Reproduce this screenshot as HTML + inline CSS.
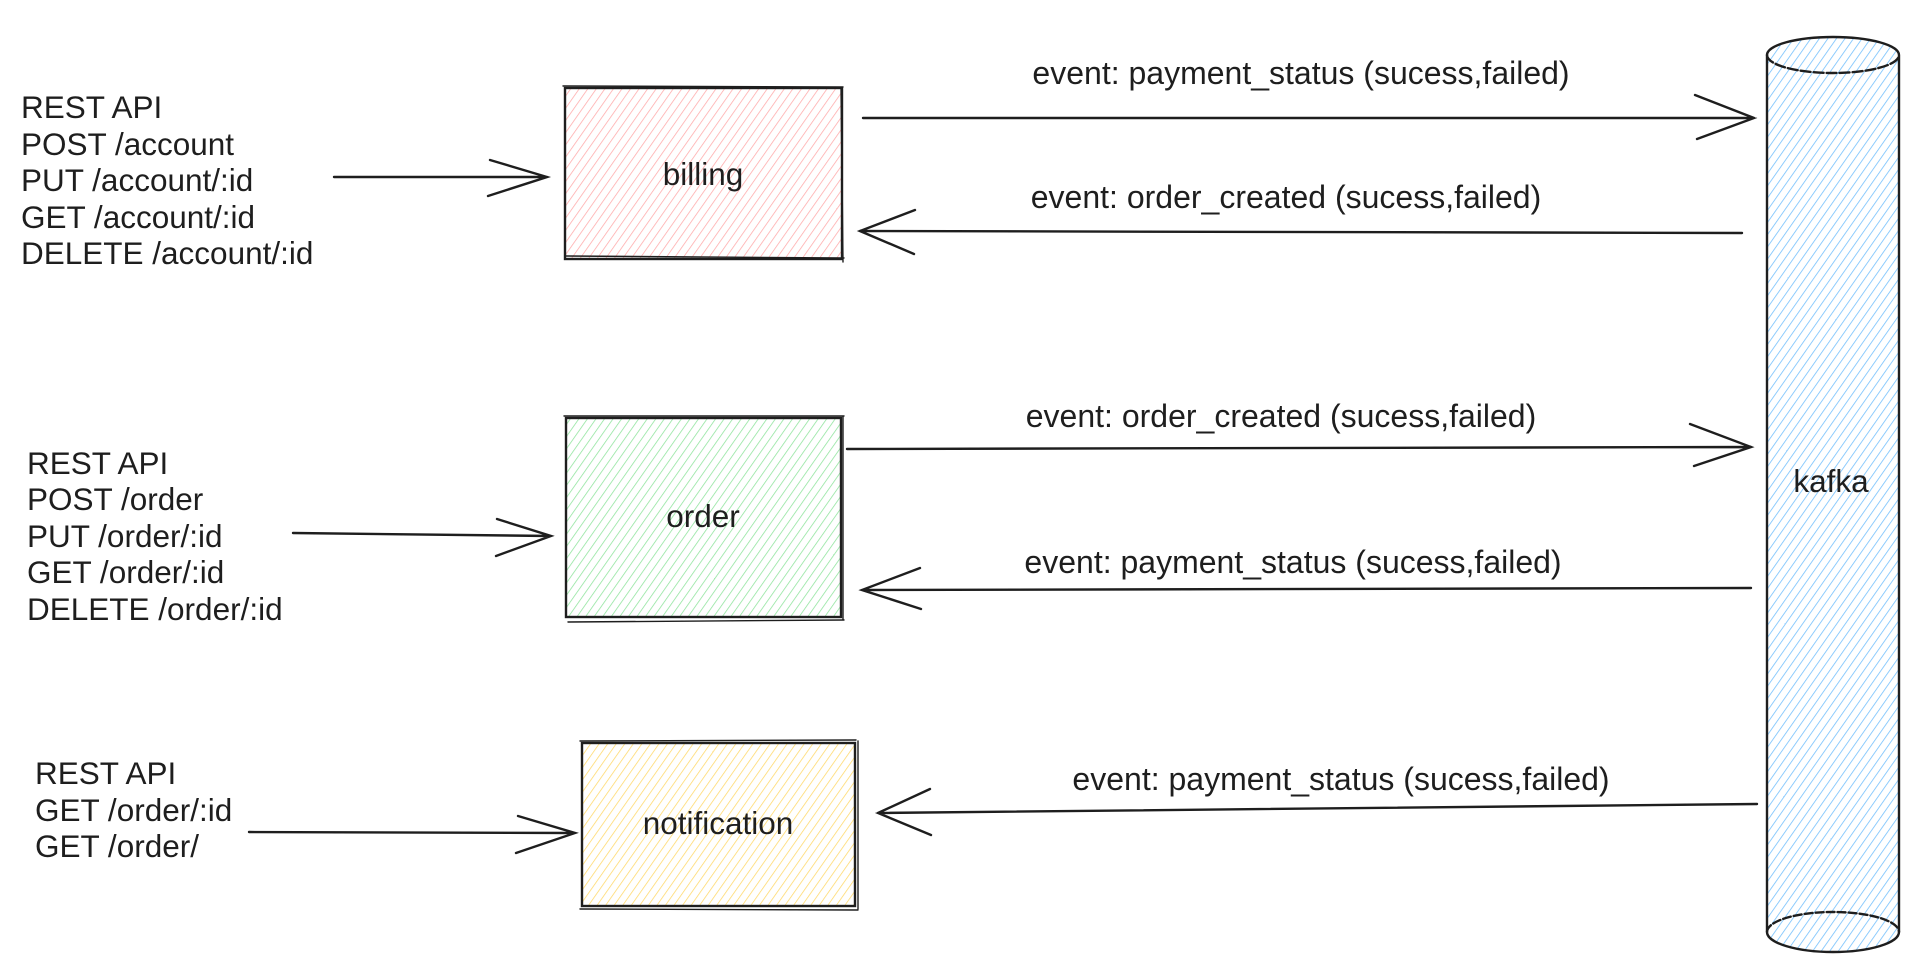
<!DOCTYPE html>
<html><head><meta charset="utf-8"><style>
html,body{margin:0;padding:0;background:#fff;}
svg{display:block}
text{font-family:"Liberation Sans",sans-serif;fill:#1e1e1e;}
</style></head><body>
<svg width="1917" height="974" viewBox="0 0 1917 974" xmlns="http://www.w3.org/2000/svg">
<defs>
<pattern id="pr" width="7" height="7" patternUnits="userSpaceOnUse" patternTransform="rotate(35)"><line x1="0" y1="0" x2="0" y2="7" stroke="#ffa8a8" stroke-width="1.5"/></pattern>
<pattern id="pg" width="7" height="7" patternUnits="userSpaceOnUse" patternTransform="rotate(35)"><line x1="0" y1="0" x2="0" y2="7" stroke="#8ce39a" stroke-width="1.5"/></pattern>
<pattern id="py" width="7" height="7" patternUnits="userSpaceOnUse" patternTransform="rotate(35)"><line x1="0" y1="0" x2="0" y2="7" stroke="#ffd866" stroke-width="1.5"/></pattern>
<pattern id="pb" width="7" height="7" patternUnits="userSpaceOnUse" patternTransform="rotate(35)"><line x1="0" y1="0" x2="0" y2="7" stroke="#74c0fc" stroke-width="1.6"/></pattern>
</defs>
<g stroke="#1e1e1e" stroke-width="2.4" fill="none" stroke-linecap="round">
<rect x="565" y="88" width="277" height="171" fill="url(#pr)"/>
<path d="M563 86 L843 87 M841 88 L843 262 M566 256 L844 258" stroke-width="1.4"/>
<rect x="566" y="418" width="275" height="199" fill="url(#pg)"/>
<path d="M564 416 L844 416 M843 417 L843 620 M568 622 L844 620" stroke-width="1.4"/>
<rect x="582" y="743" width="273" height="163" fill="url(#py)"/>
<path d="M580 741 L856 740 M858 741 L858 909 M580 909 L858 910" stroke-width="1.4"/>
<path d="M1767 55 L1767 932 A66 20 0 0 0 1899 932 L1899 55 A66 18 0 0 0 1767 55 Z" fill="url(#pb)"/>
<path d="M1767 55 A66 18 0 0 0 1899 55" stroke-dasharray="10 3"/>
<path d="M1767 932 A66 20 0 0 1 1899 932" stroke-dasharray="8 3"/>
<path d="M334 177 L547 177 M490 160 L547 177 L488 196"/>
<path d="M293 533 L551 536 M497 519 L551 536 L496 556"/>
<path d="M249 832 L575 833 M518 816 L575 833 L516 853"/>
<path d="M863 118 L1754 118 M1695 95 L1754 118 L1697 139"/>
<path d="M1742 233 L860 231 M915 210 L860 231 L914 254"/>
<path d="M847 449 L1751 447 M1690 424 L1751 447 L1694 466"/>
<path d="M1751 588 L862 590 M920 568 L862 590 L921 609"/>
<path d="M1757 804 L878 813 M930 789 L878 813 L931 835"/>
</g>
<g font-size="31.5">
<text x="21" y="118">REST API</text>
<text x="21" y="155">POST /account</text>
<text x="21" y="191">PUT /account/:id</text>
<text x="21" y="228">GET /account/:id</text>
<text x="21" y="264">DELETE /account/:id</text>
<text x="27" y="474">REST API</text>
<text x="27" y="510">POST /order</text>
<text x="27" y="547">PUT /order/:id</text>
<text x="27" y="583">GET /order/:id</text>
<text x="27" y="620">DELETE /order/:id</text>
<text x="35" y="784">REST API</text>
<text x="35" y="821">GET /order/:id</text>
<text x="35" y="857">GET /order/</text>
<text x="703" y="185" text-anchor="middle">billing</text>
<text x="703" y="527" text-anchor="middle">order</text>
<text x="718" y="834" text-anchor="middle">notification</text>
<text x="1831" y="492" text-anchor="middle">kafka</text>
</g>
<g font-size="32">
<text x="1301" y="84" text-anchor="middle">event: payment_status (sucess,failed)</text>
<text x="1286" y="208" text-anchor="middle">event: order_created (sucess,failed)</text>
<text x="1281" y="427" text-anchor="middle">event: order_created (sucess,failed)</text>
<text x="1293" y="573" text-anchor="middle">event: payment_status (sucess,failed)</text>
<text x="1341" y="790" text-anchor="middle">event: payment_status (sucess,failed)</text>
</g>
</svg>
</body></html>
